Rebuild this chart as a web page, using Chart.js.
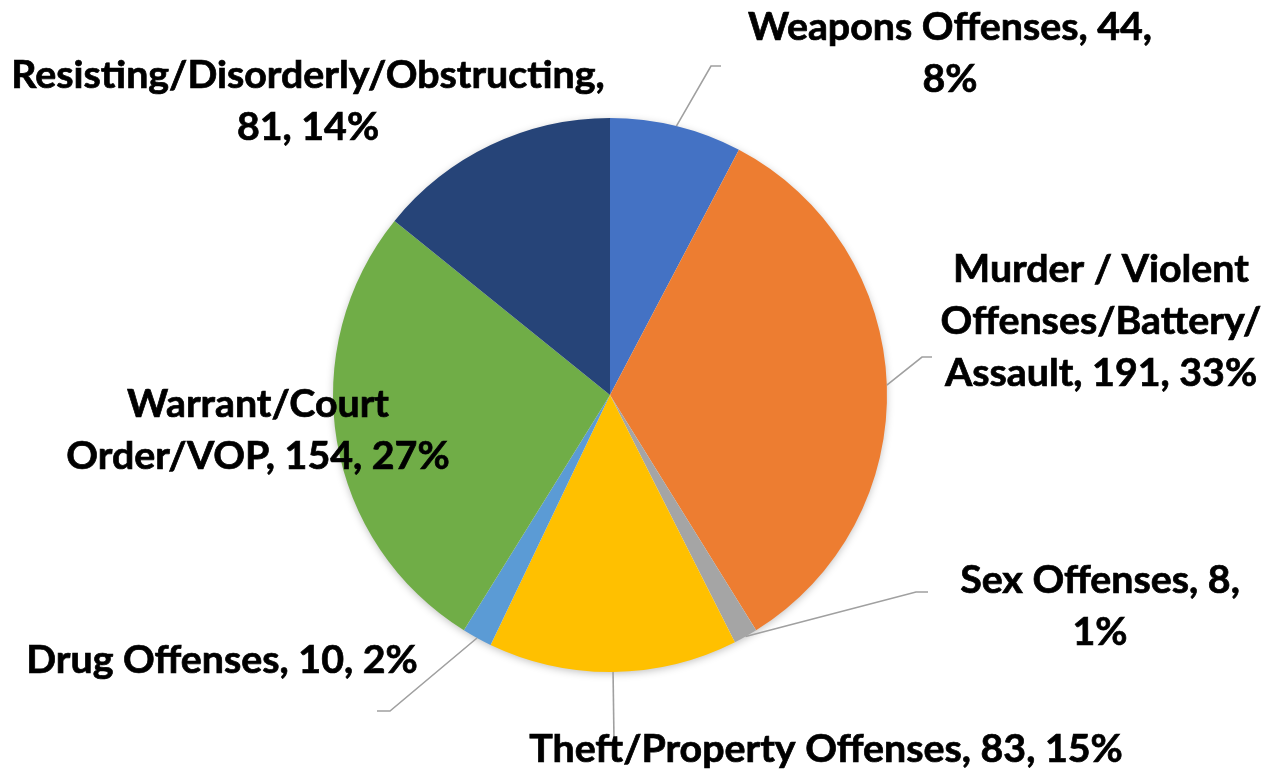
<!DOCTYPE html>
<html><head><meta charset="utf-8">
<script src="https://cdn.jsdelivr.net/npm/chart.js@4/dist/chart.umd.min.js"></script>
<style>html,body{margin:0;padding:0;background:#fff}canvas{display:block}</style>
</head><body>
<canvas id="c" width="1266" height="774"></canvas>
<script>
// ---- data ----
const categories = [
  "Weapons Offenses",
  "Murder / Violent Offenses/Battery/Assault",
  "Sex Offenses",
  "Theft/Property Offenses",
  "Drug Offenses",
  "Warrant/Court Order/VOP",
  "Resisting/Disorderly/Obstructing"
];
const counts = [44, 191, 8, 83, 10, 154, 81];

// ---- styles / layout ----
const sliceColors = ["#4472C4", "#ED7D31", "#A5A5A5", "#FFC000", "#5B9BD5", "#70AD47", "#264478"];
const labelAnchor = [[950, 40], [1101, 282], [1100, 593], [826, 762], [222, 673], [258, 417], [308, 88]];
const labelBreaks = [[21], [16, 34], [16], [], [], [13], [33]];
const leaderElbow = [[711, 66, 721], [922, 357, 932], [916, 592, 928], [614, 740, 614], [390, 711, 377], null, null];
const LINE_GAP = 52;
const FONT = "bold 38px Lato";
const TEXT_SCALE_X = 1.035;

const labelPlugin = {
  id: 'pieLabels',
  beforeDatasetsDraw(chart) {
    const a = chart.getDatasetMeta(0).data[0];
    const ctx = chart.ctx;
    ctx.save();
    ctx.shadowColor = 'rgba(0,0,0,0.28)';
    ctx.shadowBlur = 9;
    ctx.shadowOffsetY = 2;
    ctx.beginPath();
    ctx.arc(a.x, a.y, a.outerRadius - 1, 0, Math.PI * 2);
    ctx.fillStyle = '#fff';
    ctx.fill();
    ctx.restore();
  },
  afterDatasetsDraw(chart) {
    const meta = chart.getDatasetMeta(0);
    const ctx = chart.ctx;
    const total = counts.reduce((s, v) => s + v, 0);
    meta.data.forEach((arc, i) => {
      const L = leaderElbow[i];
      if (L) {
        const mid = (arc.startAngle + arc.endAngle) / 2;
        const sx = arc.x + arc.outerRadius * Math.cos(mid);
        const sy = arc.y + arc.outerRadius * Math.sin(mid);
        ctx.save();
        ctx.beginPath();
        ctx.moveTo(sx, sy);
        ctx.lineTo(L[0], L[1]);
        ctx.lineTo(L[2], L[1]);
        ctx.strokeStyle = '#A0A0A0';
        ctx.lineWidth = 1.6;
        ctx.stroke();
        ctx.restore();
      }
      const text = `${categories[i]}, ${counts[i]}, ${Math.round(counts[i] / total * 100)}%`;
      const cuts = [0, ...labelBreaks[i], text.length];
      const lines = [];
      for (let k = 0; k < cuts.length - 1; k++) lines.push(text.slice(cuts[k], cuts[k + 1]).trim());
      ctx.save();
      ctx.font = FONT;
      ctx.fillStyle = '#000';
      ctx.strokeStyle = '#000';
      ctx.lineWidth = 0.7;
      ctx.textAlign = 'center';
      ctx.textBaseline = 'alphabetic';
      lines.forEach((ln, k) => {
        ctx.save();
        ctx.translate(labelAnchor[i][0], labelAnchor[i][1] + k * LINE_GAP);
        ctx.scale(TEXT_SCALE_X, 1);
        ctx.fillText(ln, 0, 0);
        ctx.strokeText(ln, 0, 0);
        ctx.restore();
      });
      ctx.restore();
    });
  }
};

new Chart(document.getElementById('c'), {
  type: 'pie',
  data: {
    labels: categories,
    datasets: [{ data: counts, backgroundColor: sliceColors, borderWidth: 0 }]
  },
  options: {
    responsive: false,
    animation: false,
    devicePixelRatio: 1,
    layout: { padding: { left: 333, right: 379, top: 118, bottom: 102 } },
    plugins: { legend: { display: false }, tooltip: { enabled: false } }
  },
  plugins: [labelPlugin]
});
</script>
</body></html>
